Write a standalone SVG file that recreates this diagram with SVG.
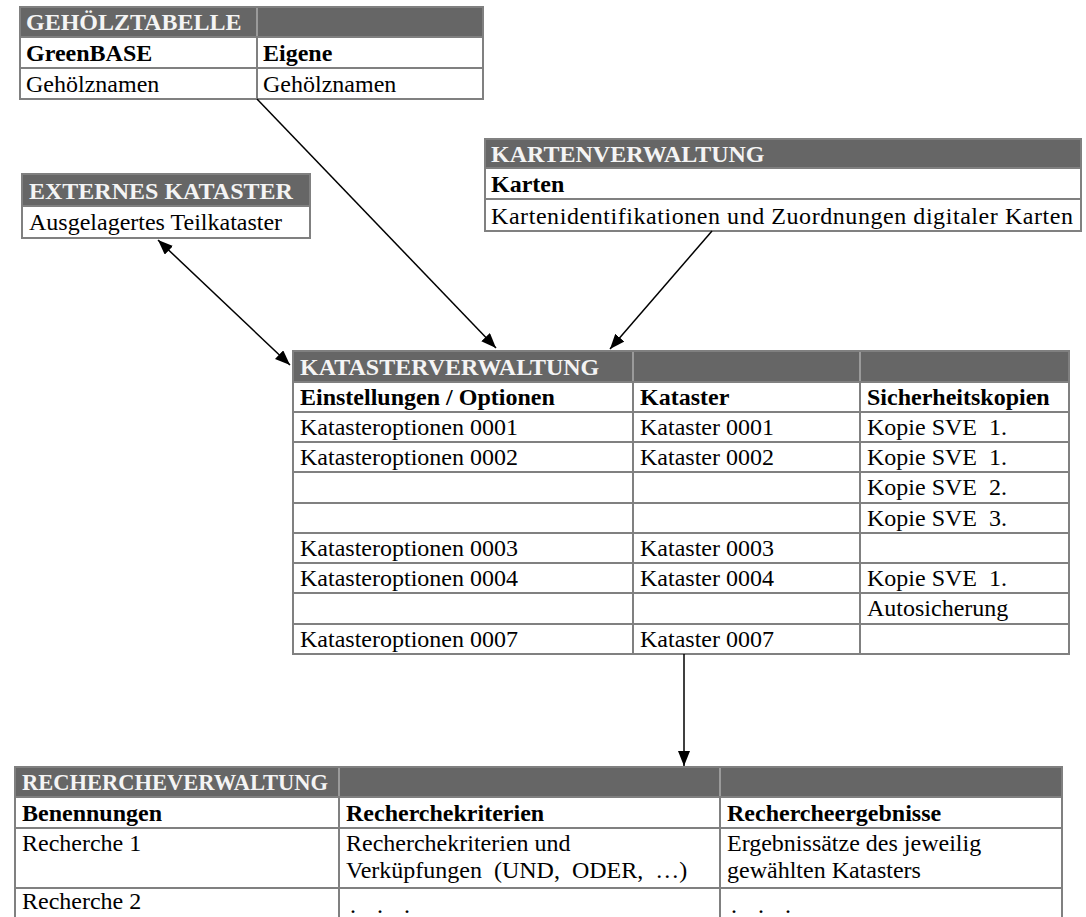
<svg xmlns="http://www.w3.org/2000/svg" width="1086" height="917" viewBox="0 0 1086 917">
<defs>
<style>
.hdr{fill:#666666}
.grid{fill:none;stroke:#808080;stroke-width:2}
.hl{stroke:#9a9a9a;stroke-width:2}
.gl{stroke:#808080;stroke-width:2}
.ht{font-family:"Liberation Serif","Times New Roman",serif;font-size:24px;font-weight:bold;fill:#f4f4f4}
.bt{font-family:"Liberation Serif","Times New Roman",serif;font-size:24px;font-weight:bold;fill:#000}
.t{font-family:"Liberation Serif","Times New Roman",serif;font-size:24px;fill:#000}
.conn{stroke:#000;stroke-width:1.5;fill:none}
</style>
<marker id="ah" markerUnits="userSpaceOnUse" markerWidth="16" markerHeight="12" refX="15" refY="6" orient="auto-start-reverse">
<path d="M0,0 L15,6 L0,12 z" fill="#000"/>
</marker>
</defs>
<rect width="1086" height="917" fill="#fff"/>

<g id="gehoelztabelle">
<rect class="hdr" x="20" y="7" width="463" height="30"/>
<line class="hl" x1="257" y1="7" x2="257" y2="37"/>
<line class="gl" x1="257" y1="37" x2="257" y2="99"/>
<line class="gl" x1="20" y1="37" x2="483" y2="37"/>
<line class="gl" x1="20" y1="68" x2="483" y2="68"/>
<rect class="grid" x="20" y="7" width="463" height="92"/>
<text class="ht" x="26" y="30">GEHÖLZTABELLE</text>
<text class="bt" x="26" y="61">GreenBASE</text>
<text class="bt" x="263" y="61">Eigene</text>
<text class="t" x="26" y="92">Gehölznamen</text>
<text class="t" x="263" y="92">Gehölznamen</text>
</g>

<g id="externes-kataster">
<rect class="hdr" x="22" y="174" width="288" height="32"/>
<line class="gl" x1="22" y1="206" x2="310" y2="206"/>
<rect class="grid" x="22" y="174" width="288" height="64"/>
<text class="ht" x="29" y="199">EXTERNES KATASTER</text>
<text class="t" x="29" y="230">Ausgelagertes Teilkataster</text>
</g>

<g id="kartenverwaltung">
<rect class="hdr" x="485" y="139" width="596" height="29"/>
<line class="gl" x1="485" y1="168" x2="1081" y2="168"/>
<line class="gl" x1="485" y1="199" x2="1081" y2="199"/>
<rect class="grid" x="485" y="139" width="596" height="92"/>
<text class="ht" x="491" y="162">KARTENVERWALTUNG</text>
<text class="bt" x="491" y="192">Karten</text>
<text class="t" x="491" y="224" textLength="582" lengthAdjust="spacing">Kartenidentifikationen und Zuordnungen digitaler Karten</text>
</g>

<g id="katasterverwaltung">
<rect class="hdr" x="293" y="351" width="776" height="31"/>
<line class="hl" x1="633" y1="351" x2="633" y2="382"/>
<line class="hl" x1="860" y1="351" x2="860" y2="382"/>
<line class="gl" x1="633" y1="382" x2="633" y2="654"/>
<line class="gl" x1="860" y1="382" x2="860" y2="654"/>
<line class="gl" x1="293" y1="382" x2="1069" y2="382"/>
<line class="gl" x1="293" y1="412" x2="1069" y2="412"/>
<line class="gl" x1="293" y1="442" x2="1069" y2="442"/>
<line class="gl" x1="293" y1="472" x2="1069" y2="472"/>
<line class="gl" x1="293" y1="503" x2="1069" y2="503"/>
<line class="gl" x1="293" y1="533" x2="1069" y2="533"/>
<line class="gl" x1="293" y1="563" x2="1069" y2="563"/>
<line class="gl" x1="293" y1="593" x2="1069" y2="593"/>
<line class="gl" x1="293" y1="624" x2="1069" y2="624"/>
<rect class="grid" x="293" y="351" width="776" height="303"/>
<text class="ht" x="300" y="375">KATASTERVERWALTUNG</text>
<text class="bt" x="300" y="405">Einstellungen / Optionen</text>
<text class="bt" x="640" y="405">Kataster</text>
<text class="bt" x="867" y="405">Sicherheitskopien</text>
<text class="t" x="300" y="435">Katasteroptionen 0001</text>
<text class="t" x="640" y="435">Kataster 0001</text>
<text class="t" x="867" y="435">Kopie SVE&#160; 1.</text>
<text class="t" x="300" y="465">Katasteroptionen 0002</text>
<text class="t" x="640" y="465">Kataster 0002</text>
<text class="t" x="867" y="465">Kopie SVE&#160; 1.</text>
<text class="t" x="867" y="495">Kopie SVE&#160; 2.</text>
<text class="t" x="867" y="526">Kopie SVE&#160; 3.</text>
<text class="t" x="300" y="556">Katasteroptionen 0003</text>
<text class="t" x="640" y="556">Kataster 0003</text>
<text class="t" x="300" y="586">Katasteroptionen 0004</text>
<text class="t" x="640" y="586">Kataster 0004</text>
<text class="t" x="867" y="586">Kopie SVE&#160; 1.</text>
<text class="t" x="867" y="616">Autosicherung</text>
<text class="t" x="300" y="647">Katasteroptionen 0007</text>
<text class="t" x="640" y="647">Kataster 0007</text>
</g>

<g id="rechercheverwaltung">
<rect class="hdr" x="15" y="767" width="1047" height="30"/>
<line class="hl" x1="339" y1="767" x2="339" y2="797"/>
<line class="hl" x1="720" y1="767" x2="720" y2="797"/>
<line class="gl" x1="339" y1="797" x2="339" y2="930"/>
<line class="gl" x1="720" y1="797" x2="720" y2="930"/>
<line class="gl" x1="15" y1="797" x2="1062" y2="797"/>
<line class="gl" x1="15" y1="828" x2="1062" y2="828"/>
<line class="gl" x1="15" y1="888" x2="1062" y2="888"/>
<rect class="grid" x="15" y="767" width="1047" height="163"/>
<text class="ht" x="22" y="790" style="font-size:22.5px">RECHERCHEVERWALTUNG</text>
<text class="bt" x="22" y="821">Benennungen</text>
<text class="bt" x="346" y="821">Recherchekriterien</text>
<text class="bt" x="727" y="821">Rechercheergebnisse</text>
<text class="t" x="22" y="851">Recherche 1</text>
<text class="t" x="346" y="851">Recherchekriterien und</text>
<text class="t" x="346" y="878" style="word-spacing:6px">Verküpfungen (UND, ODER, …)</text>
<text class="t" x="727" y="851">Ergebnissätze des jeweilig</text>
<text class="t" x="727" y="878">gewählten Katasters</text>
<text class="t" x="22" y="909">Recherche 2</text>
<text class="t" y="913"><tspan x="350">.</tspan><tspan x="377">.</tspan><tspan x="404">.</tspan></text>
<text class="t" y="913"><tspan x="731">.</tspan><tspan x="758">.</tspan><tspan x="785">.</tspan></text>
</g>

<g id="connectors">
<line class="conn" x1="257" y1="99" x2="496" y2="348" marker-end="url(#ah)"/>
<line class="conn" x1="712" y1="231" x2="610" y2="349" marker-end="url(#ah)"/>
<line class="conn" x1="158" y1="240" x2="290" y2="365" marker-start="url(#ah)" marker-end="url(#ah)"/>
<line class="conn" x1="684" y1="654" x2="684" y2="766" marker-end="url(#ah)"/>
</g>
</svg>
